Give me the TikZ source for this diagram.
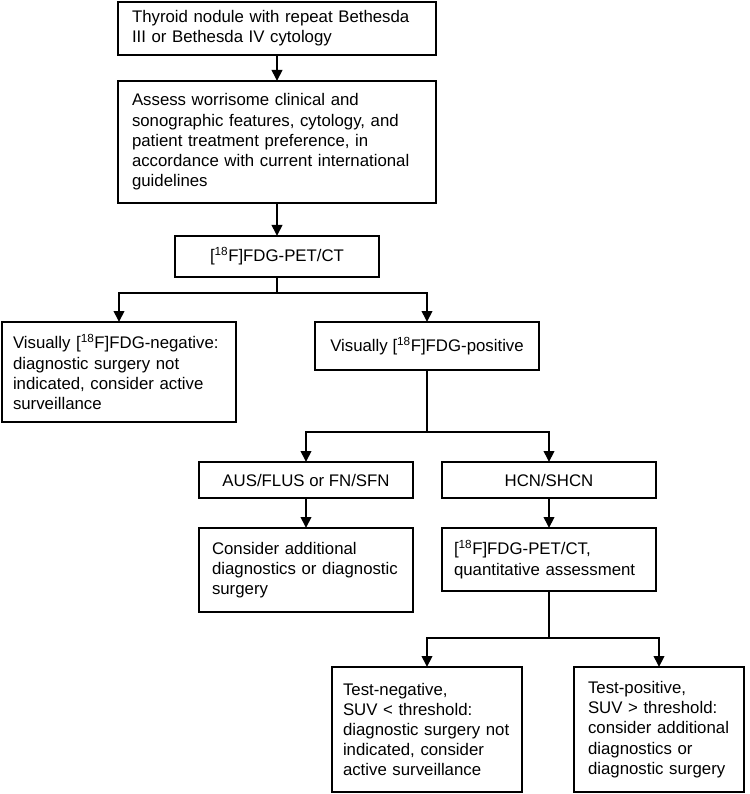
\documentclass[tikz,border=0pt]{standalone}
\usepackage{fontspec}
\setmainfont{Liberation Sans}
\usetikzlibrary{arrows.meta}
\newcommand\ml[1]{\mbox{#1}}
\newcommand\fdgx{[\textsuperscript{18}F]FDG}
\begin{document}
\begin{tikzpicture}[x=1pt,y=-1pt,
  every node/.style={font=\fontsize{16.8}{20.2}\selectfont},
  lbox/.style={draw, line width=2pt, outer sep=0pt, inner ysep=0pt, anchor=north west, align=left},
  cbox/.style={draw, line width=2pt, outer sep=0pt, inner sep=0pt, anchor=north west, align=center},
  conn/.style={line width=2pt, -{Triangle[length=11pt,width=10.5pt]}},
  plainline/.style={line width=2pt}]
\fill[white] (0,0) rectangle (749,794);
\useasboundingbox (0,0) rectangle (749,794);

\node[lbox, text width=290pt, inner xsep=14pt, minimum height=53pt] (b1) at (118,2)
  {\ml{Thyroid nodule with repeat Bethesda}\\\ml{III or Bethesda IV cytology}};
\node[lbox, text width=290pt, inner xsep=14pt, minimum height=122pt] (b2) at (118,81)
  {\ml{Assess worrisome clinical and}\\\ml{sonographic features, cytology, and}\\\ml{patient treatment preference, in}\\\ml{accordance with current international}\\\ml{guidelines}};
\node[cbox, minimum width=204pt, minimum height=41pt] (b3) at (175,236) {\fdgx-PET/CT};
\node[lbox, text width=212pt, inner xsep=11pt, minimum height=100pt] (b4) at (2,322)
  {\ml{Visually \fdgx-negative:}\\\ml{diagnostic surgery not}\\\ml{indicated, consider active}\\\ml{surveillance}};
\node[cbox, minimum width=224pt, minimum height=48pt] (b5) at (315,322) {Visually \fdgx-positive};
\node[cbox, minimum width=214pt, minimum height=36pt] (b6) at (199,462) {AUS/FLUS or FN/SFN};
\node[cbox, minimum width=214pt, minimum height=36pt] (b7) at (442,462) {HCN/SHCN};
\node[lbox, text width=188pt, inner xsep=13pt, minimum height=84pt] (b8) at (199,528)
  {\ml{Consider additional}\\\ml{diagnostics or diagnostic}\\\ml{surgery}};
\node[lbox, text width=190pt, inner xsep=12pt, minimum height=63pt] (b9) at (442,528)
  {\ml{\fdgx-PET/CT,}\\\ml{quantitative assessment}};
\node[lbox, text width=168pt, inner xsep=11pt, minimum height=125pt] (b10) at (332,667)
  {\ml{Test-negative,}\\\ml{SUV < threshold:}\\\ml{diagnostic surgery not}\\\ml{indicated, consider}\\\ml{active surveillance}};
\node[lbox, text width=142pt, inner xsep=14pt, minimum height=125pt] (b11) at (574,667)
  {\ml{Test-positive,}\\\ml{SUV > threshold:}\\\ml{consider additional}\\\ml{diagnostics or}\\\ml{diagnostic surgery}};

\coordinate (j1) at (277,293);
\coordinate (j2) at (427,432);
\coordinate (j3) at (549,638);

\draw[conn] (b1.south) -- (b2.north);
\draw[conn] (b2.south) -- (b3.north);
\draw[plainline] (b3.south) -- (j1);
\draw[conn] (j1) -| (b4.north);
\draw[conn] (j1) -| (b5.north);
\draw[plainline] (b5.south) -- (j2);
\draw[conn] (j2) -| (b6.north);
\draw[conn] (j2) -| (b7.north);
\draw[conn] (b6.south) -- (b8.north);
\draw[conn] (b7.south) -- (b9.north);
\draw[plainline] (b9.south) -- (j3);
\draw[conn] (j3) -| (b10.north);
\draw[conn] (j3) -| (b11.north);
\end{tikzpicture}
\end{document}
